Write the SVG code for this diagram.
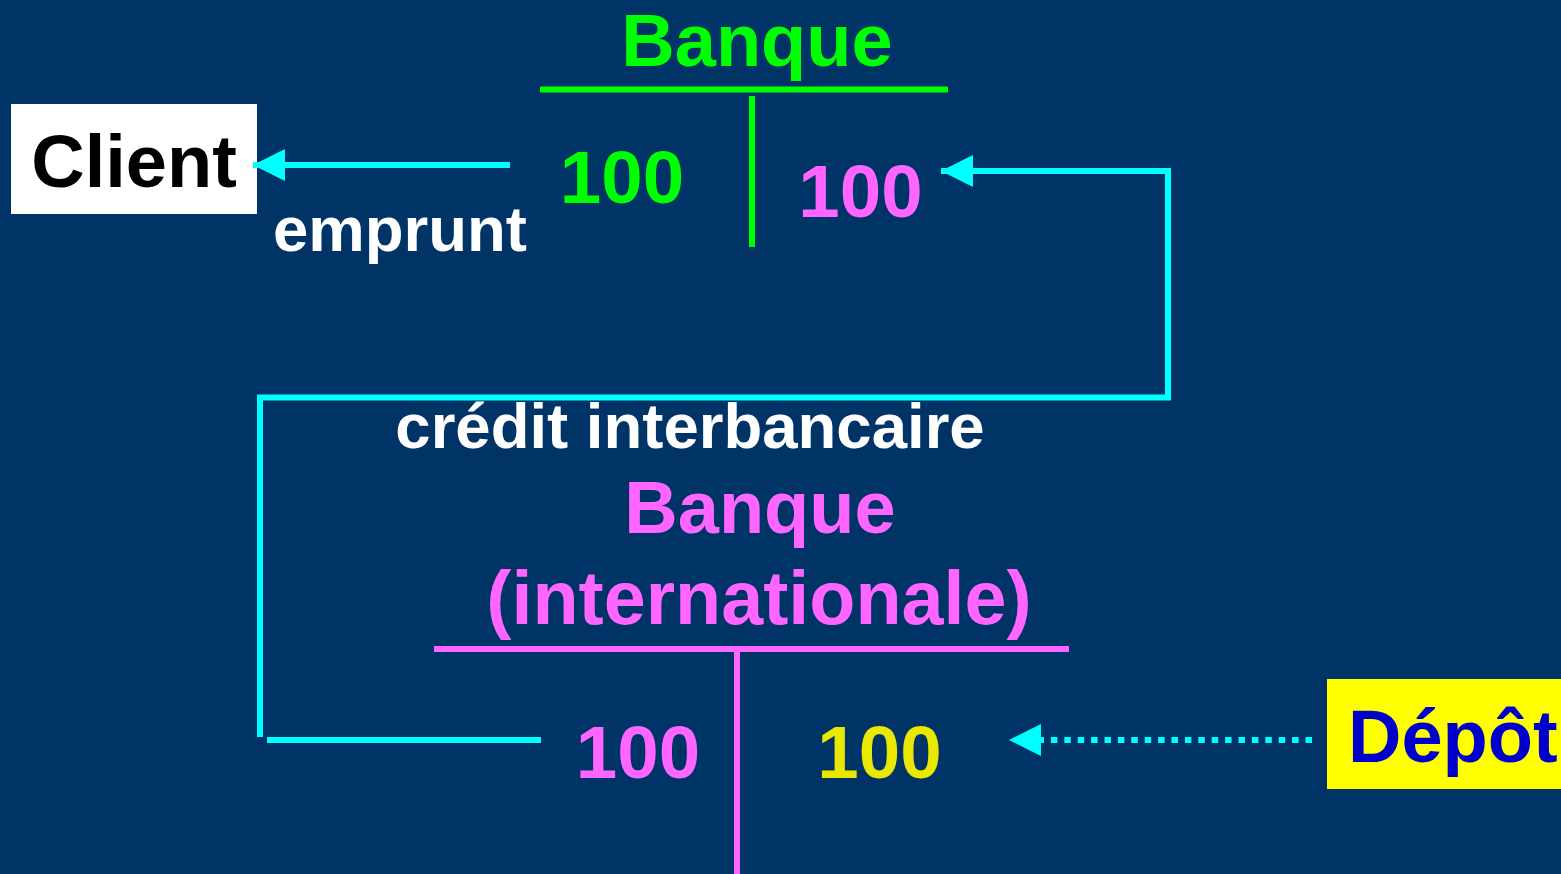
<svg xmlns="http://www.w3.org/2000/svg" width="1561" height="874" viewBox="0 0 1561 874">
<style>
text{font-family:"Liberation Sans",Arial,sans-serif;font-weight:bold}
.big{font-size:74px}
.num{font-size:74.5px;text-anchor:middle}
.lbl{font-size:63.5px;fill:#FFFFFF;text-anchor:middle}
.cy{stroke:#00FFFF;stroke-width:6;fill:none}
</style>
<defs>
<marker id="ah" markerUnits="userSpaceOnUse" markerWidth="34" markerHeight="34" viewBox="0 0 34 34" refX="32" refY="17" orient="auto">
<path d="M0,1 L32,17 L0,33 Z" fill="#00FFFF"/>
</marker>
</defs>
<rect width="1561" height="874" fill="#003366"/>
<g id="banque-top">
<text class="big" x="757" y="66" fill="#00FF00" text-anchor="middle">Banque</text>
<line x1="540" y1="89.5" x2="948" y2="89.5" stroke="#00FF00" stroke-width="6"/>
<line x1="752" y1="96" x2="752" y2="247" stroke="#00FF00" stroke-width="6"/>
<text class="num" x="622" y="203" fill="#00FF00">100</text>
<text class="num" x="860.5" y="217" fill="#FF66FF">100</text>
</g>
<g id="client">
<rect x="11" y="104" width="246" height="110" fill="#FFFFFF"/>
<text class="big" x="134" y="187" fill="#000000" text-anchor="middle">Client</text>
</g>
<g id="banque-int">
<text class="big" x="760" y="533" fill="#FF66FF" text-anchor="middle">Banque</text>
<text x="759" y="624" fill="#FF66FF" text-anchor="middle" font-size="75.5">(internationale)</text>
<line x1="434" y1="649" x2="1069" y2="649" stroke="#FF66FF" stroke-width="6"/>
<line x1="737" y1="652" x2="737" y2="874" stroke="#FF66FF" stroke-width="6"/>
<text class="num" x="638" y="778" fill="#FF66FF">100</text>
<text class="num" x="879.5" y="778" fill="#E8E800">100</text>
</g>
<g id="depot">
<rect x="1327" y="679" width="234" height="110" fill="#FFFF00"/>
<text class="big" x="1348" y="762" fill="#0000CC">Dépôt</text>
</g>
<g id="connectors">
<line class="cy" x1="510" y1="165" x2="253" y2="165" marker-end="url(#ah)"/>
<polyline class="cy" points="260,737 260,397.5 1168,397.5 1168,171 941,171" stroke-linejoin="miter" marker-end="url(#ah)"/>
<line class="cy" x1="541" y1="740" x2="267" y2="740"/>
<line class="cy" x1="1312" y1="740" x2="1041" y2="740" stroke-dasharray="6.5 6.9"/>
<path d="M1041,724 L1009,740 L1041,756 Z" fill="#00FFFF"/>
</g>
<g id="labels">
<text class="lbl" x="400" y="251">emprunt</text>
<text class="lbl" x="690" y="448">crédit interbancaire</text>
</g>
</svg>
